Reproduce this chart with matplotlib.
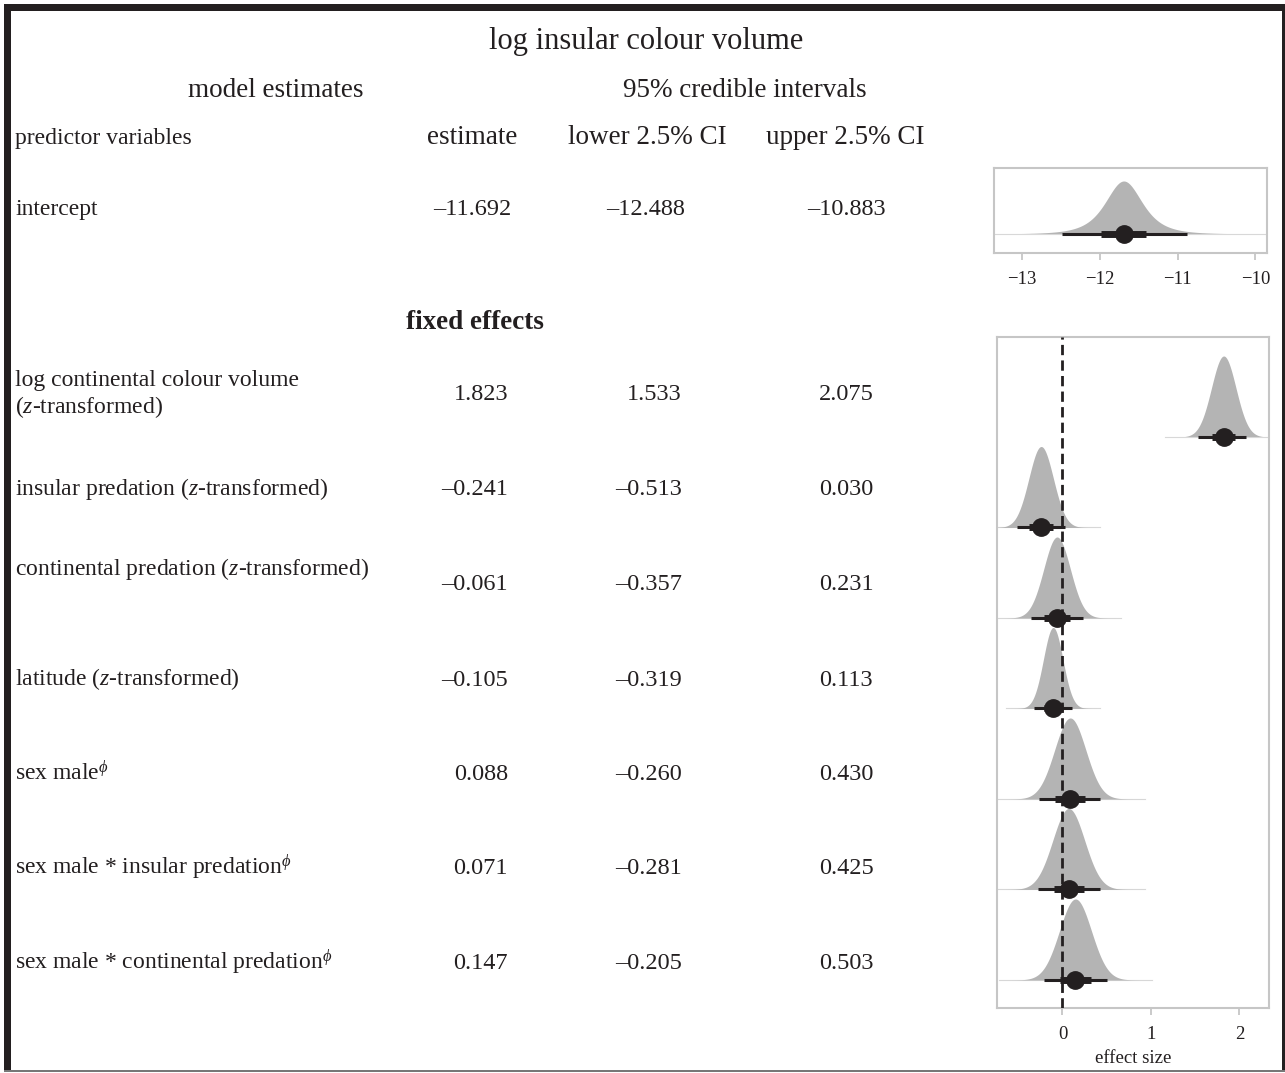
import numpy as np
import matplotlib
matplotlib.use('Agg')
import matplotlib.pyplot as plt
from matplotlib.patches import Rectangle

plt.rcParams['font.family'] = ['Liberation Serif', 'DejaVu Serif']
plt.rcParams['mathtext.fontset'] = 'custom'
plt.rcParams['mathtext.rm'] = 'Liberation Serif'
plt.rcParams['mathtext.it'] = 'Liberation Serif:italic'
plt.rcParams['mathtext.bf'] = 'Liberation Serif:bold'

INK = '#231f20'
FILL = '#b4b4b4'
FRAME = '#c6c6c6'

# ---- table values ----
predictors = ['log continental colour volume\n($z$-transformed)',
              'insular predation ($z$-transformed)',
              'continental predation ($z$-transformed)',
              'latitude ($z$-transformed)',
              r'sex male$^{\phi}$',
              r'sex male * insular predation$^{\phi}$',
              r'sex male * continental predation$^{\phi}$']
estimate = [1.823, -0.241, -0.061, -0.105, 0.088, 0.071, 0.147]
lower95 = [1.533, -0.513, -0.357, -0.319, -0.260, -0.281, -0.205]
upper95 = [2.075, 0.030, 0.231, 0.113, 0.430, 0.425, 0.503]
# inner (thick) intervals
lower66 = [1.69, -0.373, -0.204, -0.211, -0.080, -0.100, -0.025]
upper66 = [1.955, -0.109, 0.082, 0.001, 0.256, 0.242, 0.319]

icpt_est, icpt_lo, icpt_hi = -11.692, -12.488, -10.883
icpt_lo66, icpt_hi66 = -11.99, -11.41

col_headers = ['estimate', 'lower 2.5% CI', 'upper 2.5% CI']

# pixel layout (figure is 1285 x 1073 px); baseline of the last text line
W, H = 1285, 1073
label_y = [413, 495, 575, 685, 780, 874, 969]
number_y = [400, 495, 590, 686, 780, 874, 969]

fig = plt.figure(figsize=(W / 100, H / 100), dpi=100)


def ftext(x, y, s, **kw):
    fig.text(x / W, 1 - y / H, s, color=INK, va='baseline', **kw)


def fmt(v):
    return f'{v:.3f}'.replace('-', '\u2013')


def box(x0, y0, x1, y1, color=INK):
    fig.add_artist(Rectangle((x0 / W, 1 - y1 / H), (x1 - x0) / W, (y1 - y0) / H,
                             transform=fig.transFigure, facecolor=color,
                             edgecolor='none', zorder=10))


# frame around the whole table
box(4, 4, W, 11)
box(4, 4, 11, 1072)
box(W - 3, 4, W, 1072)
box(4, 1070, W, 1072, color='#777777')

# headers
ftext(646, 49, 'log insular colour volume', ha='center', fontsize=22)
ftext(276, 97, 'model estimates', ha='center', fontsize=19.5)
ftext(745, 97, '95% credible intervals', ha='center', fontsize=19.5)
ftext(15, 144, 'predictor variables', ha='left', fontsize=17)
for x, h in zip([472, 647, 845], col_headers):
    ftext(x, 144, h, ha='center', fontsize=19.5)

# intercept row
ftext(15, 215, 'intercept', fontsize=17)
ftext(511, 215, fmt(icpt_est), ha='right', fontsize=17.5)
ftext(685, 215, fmt(icpt_lo), ha='right', fontsize=17.5)
ftext(846, 215, fmt(icpt_hi), ha='center', fontsize=17.5)

ftext(475, 329, 'fixed effects', ha='center', fontsize=19.5, fontweight='bold')

for i in range(len(predictors)):
    ftext(15, label_y[i], predictors[i], fontsize=17, linespacing=1.15)
    ftext(508, number_y[i], fmt(estimate[i]), ha='right', fontsize=17.5)
    ftext(682, number_y[i], fmt(lower95[i]), ha='right', fontsize=17.5)
    ftext(846, number_y[i], fmt(upper95[i]), ha='center', fontsize=17.5)


def style(ax):
    for sp in ax.spines.values():
        sp.set_color(FRAME)
        sp.set_linewidth(1.5)
    ax.tick_params(axis='x', colors=FRAME, labelcolor=INK, length=5, width=1.3,
                   pad=8, labelsize=13.5)
    ax.set_yticks([])


# ---- intercept ridge (heavy tailed) ----
ax1 = fig.add_axes([994 / W, 1 - 253 / H, 273 / W, 85 / H])
s = (icpt_hi - icpt_lo) / 2 / 3.182
xs = np.linspace(-13.5, -9.7, 600)
d = (1 + ((xs - icpt_est) / s) ** 2 / 3) ** -2
ax1.fill_between(xs, 0, d, color=FILL, lw=0, zorder=2)
ax1.plot(xs, np.zeros_like(xs), color='#d8d8d8', lw=0.8, zorder=2)
ax1.plot([icpt_lo, icpt_hi], [0, 0], color=INK, lw=2.2, solid_capstyle='butt', zorder=4)
ax1.plot([icpt_lo66, icpt_hi66], [0, 0], color=INK, lw=5, solid_capstyle='butt', zorder=4)
ax1.plot(icpt_est, 0, 'o', color=INK, ms=12.5, zorder=5)
ax1.set_xlim(-13.36, -9.85)
ax1.set_ylim(-0.358, 1.245)
ax1.set_xticks([-13, -12, -11, -10])
style(ax1)

# ---- fixed effects ridges ----
ax2 = fig.add_axes([997 / W, 1 - 1008 / H, 272 / W, 671 / H])
n = len(predictors)
ypos = np.arange(n)[::-1]
for i in range(n):
    sd = (upper95[i] - lower95[i]) / 3.92
    xs = np.linspace(estimate[i] - 4.8 * sd, estimate[i] + 4.8 * sd, 300)
    d = np.exp(-0.5 * ((xs - estimate[i]) / sd) ** 2)
    y0 = ypos[i]
    ax2.fill_between(xs, y0, y0 + 0.895 * d, color=FILL, lw=0, zorder=2 + i * 0.01)
    ax2.plot(xs, np.full_like(xs, y0), color='#d8d8d8', lw=0.8, zorder=2)
    ax2.plot([lower95[i], upper95[i]], [y0, y0], color=INK, lw=2.2,
             solid_capstyle='butt', zorder=4)
    ax2.plot([lower66[i], upper66[i]], [y0, y0], color=INK, lw=5,
             solid_capstyle='butt', zorder=4)
    ax2.plot(estimate[i], y0, 'o', color=INK, ms=12.5, zorder=5)
ax2.axvline(0, color=INK, lw=2.0, ls=(0, (3.7, 1.9)), zorder=3)
ax2.set_xlim(-0.74, 2.335)
ax2.set_ylim(-0.31, n - 1 + 1.105)
ax2.set_xticks([0, 1, 2])
ax2.set_xlabel('effect size', fontsize=13.5, color=INK, labelpad=5)
style(ax2)

fig.savefig('out.png', dpi=100, facecolor='white')
